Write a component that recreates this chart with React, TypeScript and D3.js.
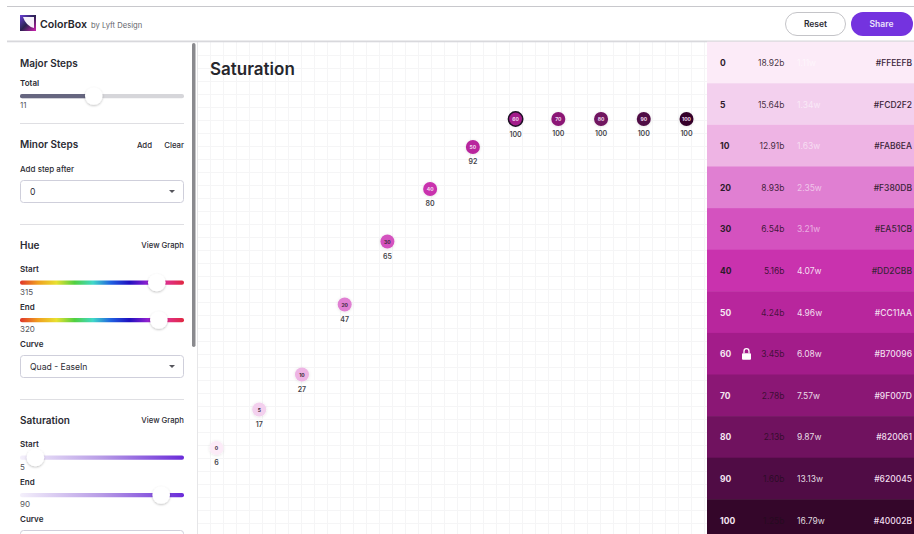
import React from "react";
import * as d3 from "d3";

const steps = [0, 5, 10, 20, 30, 40, 50, 60, 70, 80, 90, 100];
const saturation = [6, 17, 27, 47, 65, 80, 92, 100, 100, 100, 100, 100];
const hexLabels = ["#FFEEFB", "#FCD2F2", "#FAB6EA", "#F380DB", "#EA51CB", "#DD2CBB", "#CC11AA", "#B70096", "#9F007D", "#820061", "#620045", "#40002B"];
const shownColors = ["#FCEBF8", "#F3D0EE", "#EEB4E4", "#E07FD2", "#D452BF", "#C932AE", "#B8269D", "#A31C8A", "#8B1775", "#70125F", "#500C45", "#34062A"];
const blackContrast = ["18.92b", "15.64b", "12.91b", "8.93b", "6.54b", "5.16b", "4.24b", "3.45b", "2.78b", "2.13b", "1.60b", "1.25b"];
const whiteContrast = ["1.11w", "1.34w", "1.63w", "2.35w", "3.21w", "4.07w", "4.96w", "6.08w", "7.57w", "9.87w", "13.13w", "16.79w"];
const lockedStep = 60;
const hueStops = ["#e0352b", "#f0a020", "#e8e030", "#50d040", "#40d8c8", "#2060e0", "#2010c0", "#9020d0", "#e03090", "#e02840"];

const FONT = "Inter, 'Noto Sans', sans-serif";
const INK = "#2b2b33";

const W = 914, H = 534;
const x = d3.scalePoint<number>().domain(steps).range([216.5, 686.5]);
const y = d3.scaleLinear().domain([6, 100]).range([448, 119]);
const rowY = d3.scaleBand<number>().domain(steps).range([41.7, 41.7 + 41.6 * steps.length]);
const thumb = (lo: number, hi: number) => d3.scaleLinear().domain([lo, hi]).range([28, 176]);

function T(p: any) {
  const { children, size = 8, weight = 500, fill = INK, ...rest } = p;
  return (
    <text fontFamily={FONT} fontSize={size} fontWeight={weight} fill={fill} dominantBaseline="central" {...rest}>
      {children}
    </text>
  );
}

function Slider({ y: yy, label, value, pos, fillId, solid }: any) {
  return (
    <g>
      <T x={20} y={yy - 13.5} size={8} weight={600}>{label}</T>
      <rect x={20} y={yy - 2} width={164} height={4.2} rx={2} fill={fillId ? `url(#${fillId})` : "#d6d6da"} />
      {solid && <rect x={20} y={yy - 2} width={pos - 20} height={4.2} rx={2} fill={solid} />}
      <circle cx={pos} cy={yy} r={8.8} fill="#fff" filter="url(#thumbShadow)" />
      <T x={20} y={yy + 9} size={8} weight={400} fill="#55555c">{value}</T>
    </g>
  );
}

function Select({ y: yy, label }: any) {
  return (
    <g>
      <rect x={20.5} y={yy} width={163} height={22} rx={3} fill="#fff" stroke="#cfcfdb" />
      <T x={30} y={yy + 11} size={8.6} weight={400}>{label}</T>
      <path d={`M${169},${yy + 9.5}h6l-3,3z`} fill="#55555c" />
    </g>
  );
}

function Sep({ y: yy }: any) {
  return <line x1={20} x2={184} y1={yy} y2={yy} stroke="#dfdfe3" />;
}

function Sidebar() {
  const stepsScale = thumb(3, 21), hue = thumb(0, 362), sat = thumb(0, 100);
  return (
    <g>
      <T x={20} y={63} size={10} weight={600}>Major Steps</T>
      <Slider y={96} label="Total" value={steps.length - 1} pos={stepsScale(steps.length - 1)} solid="#666680" />
      <Sep y={123.5} />
      <T x={20} y={144} size={10} weight={600}>Minor Steps</T>
      <T x={152} y={144.5} size={7.8} textAnchor="end">Add</T>
      <T x={184} y={144.5} size={7.8} textAnchor="end">Clear</T>
      <T x={20} y={169} size={8} weight={500}>Add step after</T>
      <Select y={180.5} label="0" />
      <Sep y={224.5} />
      <T x={20} y={245} size={10} weight={600}>Hue</T>
      <T x={184} y={245.5} size={7.7} textAnchor="end">View Graph</T>
      <Slider y={282.5} label="Start" value={315} pos={hue(315)} fillId="hueGrad" />
      <Slider y={320} label="End" value={320} pos={hue(320)} fillId="hueGrad" />
      <T x={20} y={344} size={8} weight={600}>Curve</T>
      <Select y={355.5} label="Quad - EaseIn" />
      <Sep y={399.5} />
      <T x={20} y={420} size={10} weight={600}>Saturation</T>
      <T x={184} y={420.5} size={7.7} textAnchor="end">View Graph</T>
      <Slider y={457.5} label="Start" value={5} pos={sat(5)} fillId="satGrad" />
      <Slider y={495} label="End" value={90} pos={sat(90)} fillId="satGrad" />
      <T x={20} y={519} size={8} weight={600}>Curve</T>
      <rect x={20.5} y={530.5} width={163} height={22} rx={3} fill="#fff" stroke="#cfcfdb" />
      <rect x={192} y={43} width={3.5} height={304} rx={1.75} fill="#8a8a8e" />
      <line x1={197.5} x2={197.5} y1={42} y2={H} stroke="#e6e6e8" />
    </g>
  );
}

function Header() {
  return (
    <g>
      <line x1={7} x2={W} y1={6.5} y2={6.5} stroke="#c8c8cc" />
      <rect x={7} y={40.5} width={W - 7} height={1.8} fill="#d8d8dc" />
      <g>
        <rect x={20} y={15} width={16} height={16} fill="url(#logoGrad)" />
        <path d="M23,17 H34 V28 Q26,26 23,17z" fill="#f5f0fa" />
      </g>
      <T x={40} y={24} size={10.6} weight={600} fill="#26262c">ColorBox</T>
      <T x={91} y={25} size={7.6} weight={400} fill="#66666c">by Lyft Design</T>
      <rect x={785.5} y={12.5} width={60} height={23} rx={11.5} fill="#fff" stroke="#c4c4c8" />
      <T x={815.5} y={24} size={8.5} weight={600} textAnchor="middle">Reset</T>
      <rect x={851} y={12} width={62} height={24} rx={12} fill="#7433DF" />
      <T x={881.5} y={24} size={8.5} weight={600} fill="#ece4fb" textAnchor="middle">Share</T>
    </g>
  );
}

function Grid() {
  const xs = d3.range(210, 707, 13);
  const ys = d3.range(55, H, 13);
  return (
    <g stroke="#f5f5f6" strokeWidth={1}>
      {xs.map((v) => <line key={v} x1={v + 0.5} x2={v + 0.5} y1={42} y2={H} />)}
      {ys.map((v) => <line key={v} x1={198} x2={707} y1={v + 0.5} y2={v + 0.5} />)}
    </g>
  );
}

function Points() {
  return (
    <g>
      {steps.map((s, i) => {
        const cx = x(s)!, cy = y(saturation[i]);
        const locked = s === lockedStep;
        return (
          <g key={s}>
            <circle cx={cx} cy={cy} r={7} fill={shownColors[i]} filter="url(#dotShadow)" />
            {locked && <circle cx={cx} cy={cy} r={7.2} fill={shownColors[i]} stroke="#1d1024" strokeWidth={1.5} />}
            <T x={cx} y={cy} size={5} weight={700} textAnchor="middle" fill={i < 5 ? "#3a2a3a" : "#f3dff0"}>{s}</T>
            <T x={cx} y={cy + (locked ? 15 : 14.5)} size={7} weight={600} textAnchor="middle" fill="#45454a">{saturation[i]}</T>
          </g>
        );
      })}
    </g>
  );
}

function Swatches() {
  const bh = rowY.bandwidth();
  return (
    <g>
      {steps.map((s, i) => {
        const top = rowY(s)!, mid = top + bh / 2 + 0.5;
        return (
          <g key={s}>
            <rect x={707} y={top} width={W - 707} height={bh + 0.5} fill={shownColors[i]} />
            <T x={720} y={mid} size={8.5} weight={700} fill={i < 6 ? "#2c1a2a" : "#f4e6f2"}>{s}</T>
            {s === lockedStep && (
              <g>
                <rect x={742} y={mid - 1} width={9} height={6.5} rx={1} fill="#fff" />
                <path d={`M744,${mid - 1} v-2 a2.5,2.5 0 0 1 5,0 v2`} fill="none" stroke="#fff" strokeWidth={1.3} />
              </g>
            )}
            <T x={784.5} y={mid} size={8.5} weight={400} textAnchor="end" fill="#1f0c1b" fillOpacity={i < 6 ? 0.85 : 0.75}>{blackContrast[i]}</T>
            <T x={797} y={mid} size={8.5} weight={400} fill="#ffffff" fillOpacity={i < 5 ? 0.55 : 0.85}>{whiteContrast[i]}</T>
            <T x={912} y={mid} size={8.5} weight={500} textAnchor="end" fill={i < 6 ? "#3a2438" : "#f1dfee"}>{hexLabels[i]}</T>
          </g>
        );
      })}
    </g>
  );
}

export default function App() {
  return (
    <svg width={W} height={H} viewBox={`0 0 ${W} ${H}`} style={{ position: "absolute", left: 0, top: 0, display: "block", background: "#fff" }}>
      <defs>
        <linearGradient id="hueGrad">
          {hueStops.map((c, i) => <stop key={i} offset={i / (hueStops.length - 1)} stopColor={c} />)}
        </linearGradient>
        <linearGradient id="satGrad">
          <stop offset="0" stopColor="#f4f0fb" />
          <stop offset="0.5" stopColor="#b79be6" />
          <stop offset="1" stopColor="#6a2bd9" />
        </linearGradient>
        <linearGradient id="logoGrad" x1="0" y1="0" x2="1" y2="1">
          <stop offset="0" stopColor="#6a40d8" />
          <stop offset="0.5" stopColor="#2a2050" />
          <stop offset="1" stopColor="#d020b0" />
        </linearGradient>
        <filter id="thumbShadow" x="-50%" y="-50%" width="200%" height="200%">
          <feDropShadow dx="0" dy="1" stdDeviation="1.2" floodColor="#000" floodOpacity="0.25" />
        </filter>
        <filter id="dotShadow" x="-60%" y="-60%" width="220%" height="220%">
          <feDropShadow dx="0" dy="0.5" stdDeviation="1.5" floodColor="#000" floodOpacity="0.12" />
        </filter>
      </defs>
      <Grid />
      <T x={210} y={68.5} size={17} weight={600} fill="#26262c">Saturation</T>
      <Points />
      <Sidebar />
      <Header />
      <Swatches />
    </svg>
  );
}
